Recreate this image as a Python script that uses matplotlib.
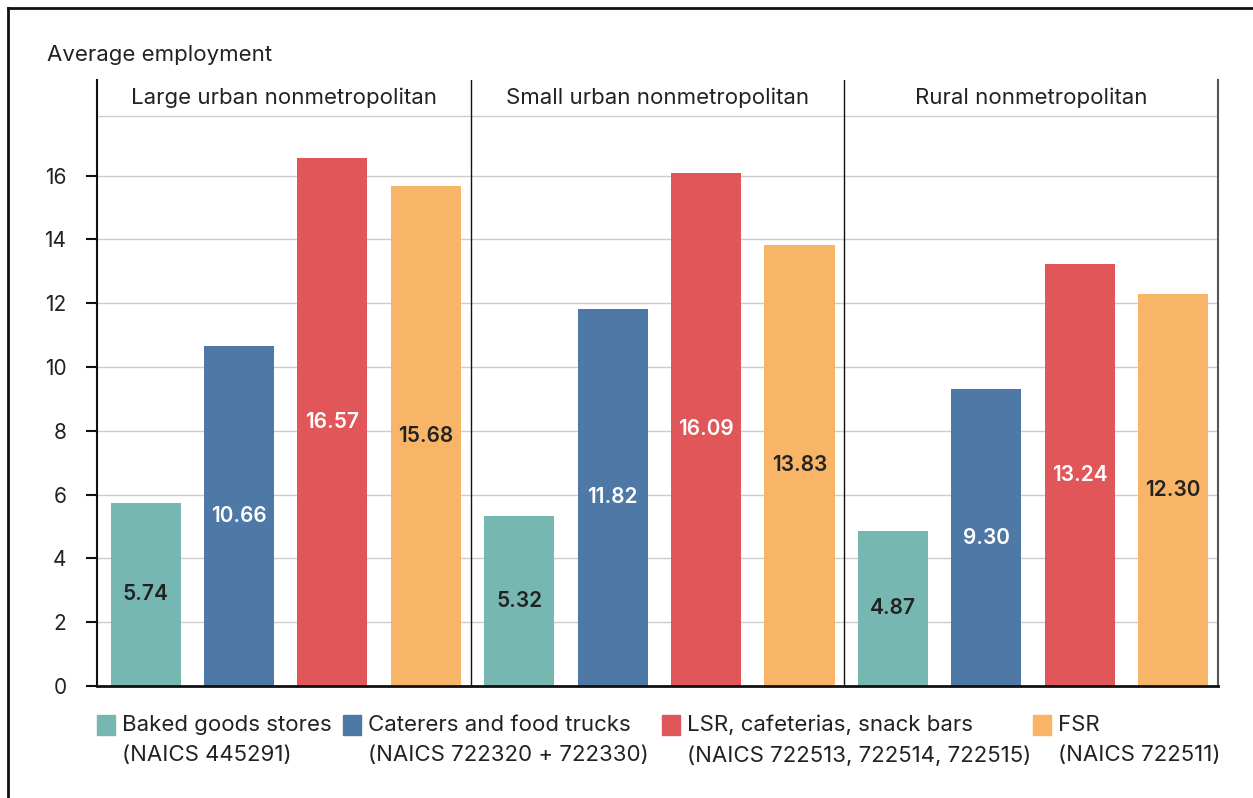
import matplotlib
matplotlib.use('Agg')
import matplotlib.pyplot as plt
from matplotlib.patches import Rectangle
from matplotlib.lines import Line2D
import numpy as np

plt.rcParams['font.family'] = ['Inter', 'Roboto', 'DejaVu Sans']

# data
regions = ['Large urban nonmetropolitan', 'Small urban nonmetropolitan', 'Rural nonmetropolitan']
categories = ['Baked goods stores\n(NAICS 445291)',
              'Caterers and food trucks\n(NAICS 722320 + 722330)',
              'LSR, cafeterias, snack bars\n(NAICS 722513, 722514, 722515)',
              'FSR\n(NAICS 722511)']
baked = [5.74, 5.32, 4.87]
caterers = [10.66, 11.82, 9.30]
lsr = [16.57, 16.09, 13.24]
fsr = [15.68, 13.83, 12.30]
yticks = [0, 2, 4, 6, 8, 10, 12, 14, 16]

colors = ['#76B7B2', '#4E79A7', '#E15759', '#F9B567']
label_colors = ['#222222', 'white', 'white', '#222222']
series = [baked, caterers, lsr, fsr]
text_col = '#222222'

fig = plt.figure(figsize=(12.53, 7.98), dpi=100)
ax = fig.add_axes([0.0774, 0.1404, 0.8947, 0.7593])

ax.set_xlim(0, 12)
ax.set_ylim(0, 19)

# grid
for y in yticks[1:]:
    ax.axhline(y, color='#cccccc', lw=1, zorder=0)
ax.axhline(17.87, color='#cccccc', lw=1, zorder=0)

# bars
for i, vals in enumerate(series):
    for p, v in enumerate(vals):
        x = p * 4 + i + 0.52
        ax.bar(x, v, width=0.75, color=colors[i], zorder=2)
        ax.text(x, v / 2, f'{v:.2f}', ha='center', va='center', fontsize=15,
                fontweight='semibold', color=label_colors[i], zorder=3)

# panel separators and titles
for p in range(1, 3):
    ax.axvline(p * 4, color='#111111', lw=1, zorder=1)
for p, name in enumerate(regions):
    ax.text(p * 4 + 2, 18.45, name, ha='center', va='center', fontsize=16, color=text_col)

ax.spines['top'].set_visible(False)
ax.spines['left'].set_color('#111111')
ax.spines['left'].set_linewidth(1.5)
ax.spines['right'].set_color('#555555')
ax.spines['right'].set_linewidth(1.5)
ax.spines['bottom'].set_color('#111111')
ax.spines['bottom'].set_linewidth(2)

ax.set_yticks(yticks)
ax.set_yticklabels([str(t) for t in yticks])
ax.set_xticks([])
ax.tick_params(axis='y', direction='out', length=8, width=1.5, pad=14,
               labelsize=15, labelcolor=text_col, color='#111111')

fig.text(47 / 1253, 1 - 55 / 798, 'Average employment', ha='left', va='center',
         fontsize=16, color=text_col)

# legend
leg_x = [97, 343, 662, 1033]
for i, lab in enumerate(categories):
    x0 = leg_x[i] / 1253
    fig.patches.append(Rectangle((x0, 1 - 735 / 798), 18 / 1253, 20 / 798,
                                 transform=fig.transFigure, color=colors[i]))
    fig.text(x0 + 25 / 1253, 1 - 740 / 798, lab, ha='left', va='center',
             fontsize=16, color=text_col, linespacing=1.65)

# outer frame (top and left)
fig.lines.append(Line2D([8 / 1253, 1], [1 - 8 / 798, 1 - 8 / 798], transform=fig.transFigure,
                        color='#111111', lw=2))
fig.lines.append(Line2D([8 / 1253, 8 / 1253], [0, 1 - 8 / 798], transform=fig.transFigure,
                        color='#111111', lw=2))

plt.savefig('out.png', dpi=100)
